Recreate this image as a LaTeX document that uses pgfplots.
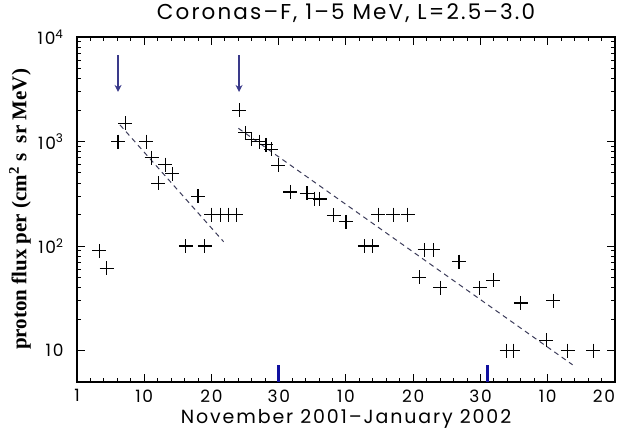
\documentclass[border=0pt]{standalone}
\usepackage{pgfplots}
\pgfplotsset{compat=1.18}
\usetikzlibrary{arrows.meta}
\usepackage{fontspec}
\setmainfont{Poppins}
\newfontfamily\widefont{Poppins}[LetterSpace=10]
\newfontfamily\ylabfont{Liberation Serif}
\definecolor{arrowblue}{HTML}{3A3A8A}
\definecolor{fitgray}{HTML}{3C3C5A}
\definecolor{monthblue}{HTML}{1010A0}

\begin{document}
\begin{tikzpicture}
\path[use as bounding box] (0,0) rectangle (622pt,439pt);
\begin{axis}[
  at={(77pt,57pt)}, anchor=south west,
  width=538pt, height=345pt, scale only axis,
  xmin=0, xmax=80, ymode=log, ymin=5, ymax=1e4,
  xtick={0,10,...,80},
  xticklabels={1,10,20,30,10,20,30,10,\makebox[0pt][r]{20}},
  minor x tick num=4,
  ytick={10,100,1000,10000},
  yticklabels={10,10\textsuperscript{2},10\textsuperscript{3},10\textsuperscript{4}},
  tick align=inside, xtick pos=both, ytick pos=both,
  major tick length=8pt, minor tick length=4pt,
  axis line style={line width=1.3pt},
  every tick/.style={black, line width=1pt},
  tick label style={font=\widefont\fontsize{17}{17}\selectfont},
  xticklabel style={yshift=-4pt},
  yticklabel style={xshift=-10pt},
  /pgf/number format/assume math mode=true,
  title={Coronas–F, 1–5 MeV, L=2.5–3.0},
  title style={font=\widefont\fontsize{21.5}{21.5}\selectfont, at={(axis description cs:0.5,1)}, anchor=base, yshift=11pt},
  xlabel={November 2001–January 2002},
  xlabel style={font=\widefont\fontsize{19}{19}\selectfont, at={(axis description cs:0.5,0)}, anchor=base, yshift=-42pt},
  ylabel={\ylabfont\bfseries proton flux per (cm\textsuperscript{2} s\ \ sr MeV)},
  ylabel style={font=\fontsize{21}{21}\selectfont, at={(axis description cs:-0.106,0.5)}, anchor=center, rotate=0},
  clip=false,
]
% month boundaries
\draw[monthblue, line width=3pt] (axis cs:30,5) -- (axis cs:30,7.2);
\draw[monthblue, line width=3pt] (axis cs:61,5) -- (axis cs:61,7.2);

% event onsets
\addplot[arrowblue, line width=1.2pt, -{Stealth[length=7pt,width=7pt]}] coordinates {(6.1,6700) (6.1,2980)};
\addplot[arrowblue, line width=1.2pt, -{Stealth[length=7pt,width=7pt]}] coordinates {(24.1,6700) (24.1,2980)};

% exponential decay fits
\addplot[fitgray, line width=1pt, dash pattern=on 5pt off 4pt] coordinates {(6.4,1440) (21.8,110)};
\addplot[fitgray, line width=1pt, dash pattern=on 5pt off 4pt] coordinates {(24.0,1337) (73.7,7.3)};

% first event
\addplot[only marks, mark=+, mark size=7pt, mark options={line width=1.1pt, black}] coordinates {
(3.3,90) (4.4,61) (6.1,1000) (7.2,1500) (10.3,1000) (11.1,700) (12.1,400)
(13.1,600) (14.2,490) (16.2,100) (18.0,300) (19.0,100)
(20.0,200) (21.3,200) (22.5,200) (23.7,200)};

% second event
\addplot[only marks, mark=+, mark size=7pt, mark options={line width=1.1pt, black}] coordinates {
(24.1,2000) (25.0,1210) (26.0,1050) (27.1,1000) (28.1,930) (28.9,840) (29.9,590)
(31.7,329) (34.2,320) (35.3,284) (36.1,282) (38.2,197) (40.0,170)
(42.8,100) (43.9,100) (44.8,200) (47.0,200) (49.2,200)
(50.9,50) (51.7,92) (53.0,92) (54.0,40) (56.8,71) (59.9,40) (61.9,47)
(63.9,10) (64.9,10) (66.0,28.5) (69.8,12.5) (70.8,30) (73.0,10) (76.8,10)};
\end{axis}
\end{tikzpicture}
\end{document}
